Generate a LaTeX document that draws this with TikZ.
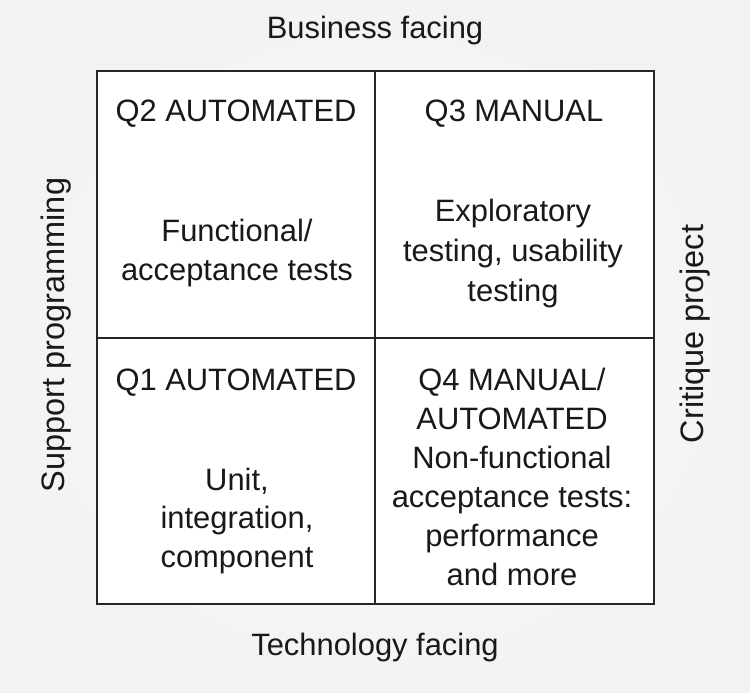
\documentclass[tikz,border=0pt]{standalone}
\usepackage{fontspec}
\setmainfont{Liberation Sans}
\begin{document}
\begin{tikzpicture}[x=1pt,y=-1pt,
  txt/.style={text=black!90, align=center, inner sep=0pt, font=\fontsize{30.9}{38.7}\selectfont},
  side/.style={txt, rotate=90, font=\fontsize{32.5}{38}\selectfont},
  boxline/.style={draw=black!85, line width=2.6pt}]
\useasboundingbox (0,0) rectangle (750,693);
\shade[inner color=white, outer color=black!5] (0,0) rectangle (750,693);
\fill[white] (97,71) rectangle (654,604);
\draw[boxline] (97,71) rectangle (654,604);
\draw[boxline] (375,71) -- (375,604);
\draw[boxline] (97,338) -- (654,338);
\node[txt] (top) at (375,31) {Business facing};
\node[txt] (bottom) at (375,648) {Technology facing};
\node[side] (left) at (56,335) {Support programming};
\node[side] (right) at (695,334) {Critique project};
\node[txt] (q2t) at (236,114) {Q2 AUTOMATED};
\node[txt] (q3t) at (514,114) {Q3 MANUAL};
\node[txt] (q2b) at (237,253) {Functional/\\acceptance tests};
\node[txt, font=\fontsize{30.9}{40}\selectfont] (q3b) at (513,254) {Exploratory\\testing, usability\\testing};
\node[txt] (q1t) at (236,383) {Q1 AUTOMATED};
\node[txt] (q4t) at (512,399) {Q4 MANUAL/\\AUTOMATED};
\node[txt] (q1b) at (237,521) {Unit,\\integration,\\component};
\node[txt] (q4b) at (512,516) {Non-functional\\acceptance tests:\\performance\\and more};
\end{tikzpicture}
\end{document}
